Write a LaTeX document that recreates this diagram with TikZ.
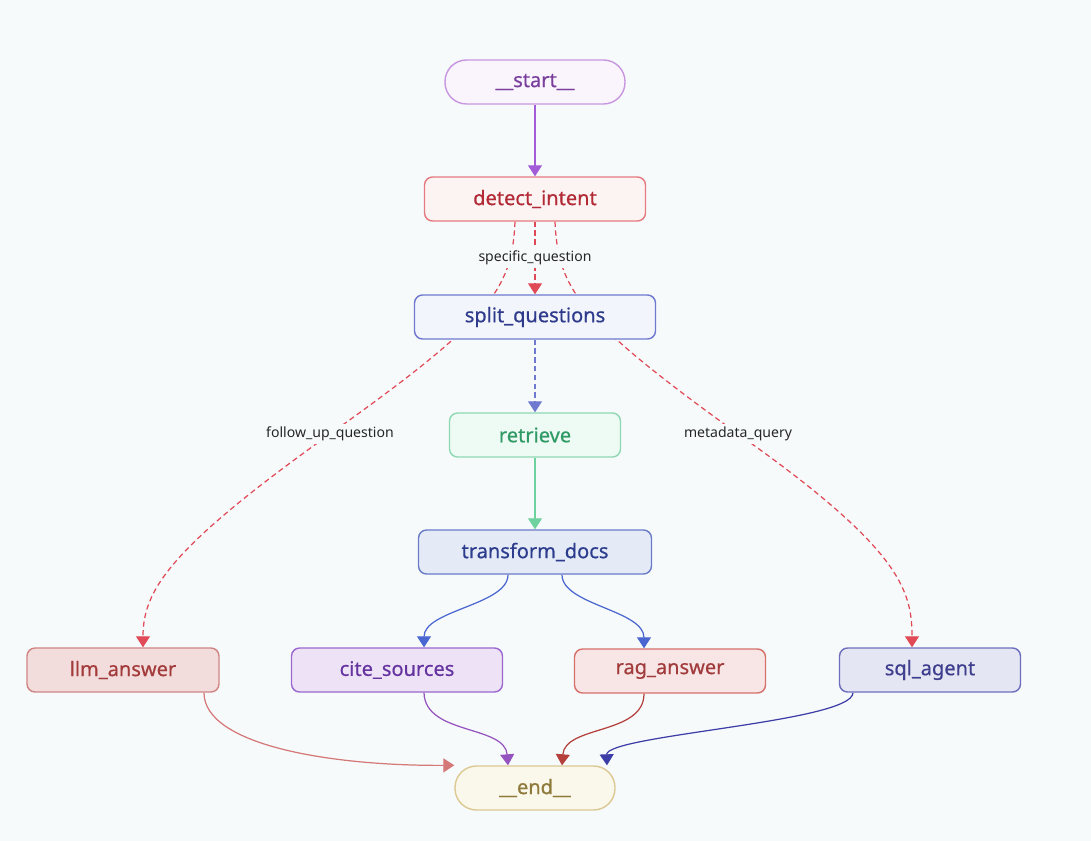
\documentclass[tikz,border=0pt]{standalone}
\usepackage{fontspec}
\setmainfont{Noto Sans}
\newfontfamily\boxfont{Noto Sans}[FakeBold=0.6]
\usetikzlibrary{calc,arrows.meta,backgrounds}

\definecolor{bg}{HTML}{F7FAFB}
\definecolor{startfill}{HTML}{FAF5FC}\definecolor{startdraw}{HTML}{C896E0}\definecolor{starttext}{HTML}{7A3E9D}
\definecolor{detfill}{HTML}{FCF3F3}\definecolor{detdraw}{HTML}{E57A80}\definecolor{dettext}{HTML}{B22A36}
\definecolor{splfill}{HTML}{F3F5FC}\definecolor{spldraw}{HTML}{6E79CF}\definecolor{spltext}{HTML}{2E3A8C}
\definecolor{retfill}{HTML}{EEFAF4}\definecolor{retdraw}{HTML}{8ED9B3}\definecolor{rettext}{HTML}{2F9A66}
\definecolor{trffill}{HTML}{E5EAF7}\definecolor{trfdraw}{HTML}{6A7CC9}\definecolor{trftext}{HTML}{2C3D8E}
\definecolor{llmfill}{HTML}{F3DCDC}\definecolor{llmdraw}{HTML}{D08585}\definecolor{llmtext}{HTML}{A33B3B}
\definecolor{citfill}{HTML}{EEE3F6}\definecolor{citdraw}{HTML}{9A68CF}\definecolor{cittext}{HTML}{6534A0}
\definecolor{ragfill}{HTML}{F8E5E5}\definecolor{ragdraw}{HTML}{D5706A}\definecolor{ragtext}{HTML}{A23C3C}
\definecolor{sqlfill}{HTML}{E5E6F3}\definecolor{sqldraw}{HTML}{6D6DBD}\definecolor{sqltext}{HTML}{3E3E8E}
\definecolor{endfill}{HTML}{FAF7EB}\definecolor{enddraw}{HTML}{DCC993}\definecolor{endtext}{HTML}{8E7A3B}
\definecolor{condred}{HTML}{E04A57}
\definecolor{flowpurple}{HTML}{A25CD8}
\definecolor{flowblue}{HTML}{4A66D0}
\definecolor{flowgreen}{HTML}{6ED29E}

\tikzset{
	box/.style={draw, rounded corners=0.16cm, minimum height=0.88cm, line width=0.8pt,
		font=\boxfont\fontsize{11.4}{13}\selectfont, inner sep=0pt},
	terminal/.style={box, rounded corners=0.43cm},
	flow/.style={line width=0.7pt, -{Triangle[width=0.28cm,length=0.22cm]}},
	cond/.style={flow, dashed, dash pattern=on 3pt off 2pt, color=condred},
	elabel/.style={fill=bg, inner sep=1.5pt, text=black!85, font=\fontsize{8}{9}\selectfont}
}

\begin{document}
\begin{tikzpicture}[x=0.02cm, y=-0.02cm]
		%%%%% START %%%%%
		\useasboundingbox (0, 0) rectangle (1091, 841);
		
		\node[terminal, fill=startfill, draw=startdraw, text=starttext, minimum width=3.6cm] (start) at (535, 82) {\_\_start\_\_};
		\node[box, fill=detfill, draw=detdraw, text=dettext, minimum width=4.42cm] (detect) at (535, 199) {detect\_intent};
		\node[box, fill=splfill, draw=spldraw, text=spltext, minimum width=4.82cm] (split) at (535, 317) {split\_questions};
		\node[box, fill=retfill, draw=retdraw, text=rettext, minimum width=3.42cm] (retrieve) at (535, 435) {retrieve};
		\node[box, fill=trffill, draw=trfdraw, text=trftext, minimum width=4.66cm] (transform) at (535, 552) {transform\_docs};
		
		\node[box, fill=llmfill, draw=llmdraw, text=llmtext, minimum width=3.84cm] (llm) at (123, 670) {llm\_answer};
		\node[box, fill=citfill, draw=citdraw, text=cittext, minimum width=4.22cm] (cite) at (397, 670) {cite\_sources};
		\node[box, fill=ragfill, draw=ragdraw, text=ragtext, minimum width=3.82cm] (rag) at (670, 671) {rag\_answer};
		\node[box, fill=sqlfill, draw=sqldraw, text=sqltext, minimum width=3.62cm] (sql) at (930, 670) {sql\_agent};
		
		\node[terminal, fill=endfill, draw=enddraw, text=endtext, minimum width=3.2cm] (end) at (535, 788) {\_\_end\_\_};
		
		\coordinate (followmid) at (330, 434);
		\coordinate (metamid) at (738, 434);
		
		\begin{scope}[on background layer]
		\fill[bg] (0, 0) rectangle (1091, 841);
		
		% conditional edges out of detect_intent
		\draw[cond] ($(detect.south)+(-20,0)$) .. controls (512, 290) and (490, 320) .. (followmid)
			.. controls (170, 548) and (143, 590) .. ($(llm.north)+(20,0)$);
		\draw[cond] ($(detect.south)+(20,0)$) .. controls (558, 290) and (580, 320) .. (metamid)
			.. controls (900, 548) and (912, 590) .. ($(sql.north)+(-18,0)$);
		\draw[cond] (detect) -- (split) node[midway, elabel] {specific\_question};
		\node[elabel] at (followmid) {follow\_up\_question};
		\node[elabel] at (metamid) {metadata\_query};
		
		\draw[flow, color=flowpurple] (start) -- (detect);
		\draw[flow, dashed, dash pattern=on 3pt off 2pt, color=spldraw] (split) -- (retrieve);
		\draw[flow, color=flowgreen] (retrieve) -- (transform);
		
		\draw[flow, color=flowblue] ($(transform.south)+(-27,0)$) .. controls (508, 605) and (424, 610) .. ($(cite.north)+(27,0)$);
		\draw[flow, color=flowblue] ($(transform.south)+(27,0)$) .. controls (562, 605) and (644, 610) .. ($(rag.north)+(-26,0)$);
		
		% into __end__
		\draw[flow, color=llmdraw!90!red] ($(llm.south)+(81,0)$) .. controls (204, 745) and (330, 766) .. (end.north west);
		\draw[flow, color=citdraw!80!violet] ($(cite.south)+(27,0)$) .. controls (425, 735) and (505, 725) .. ($(end.north)+(-27,0)$);
		\draw[flow, color=ragdraw!70!red!80!black] ($(rag.south)+(-26,0)$) .. controls (644, 735) and (565, 725) .. ($(end.north)+(27,0)$);
		\draw[flow, color=sqldraw!70!blue!80!black] ($(sql.south)+(-77,0)$) .. controls (853, 722) and (606, 735) .. ($(end.north)+(72,0)$);
		\end{scope}
		%%%%% END %%%%%
	\end{tikzpicture}
\end{document}
